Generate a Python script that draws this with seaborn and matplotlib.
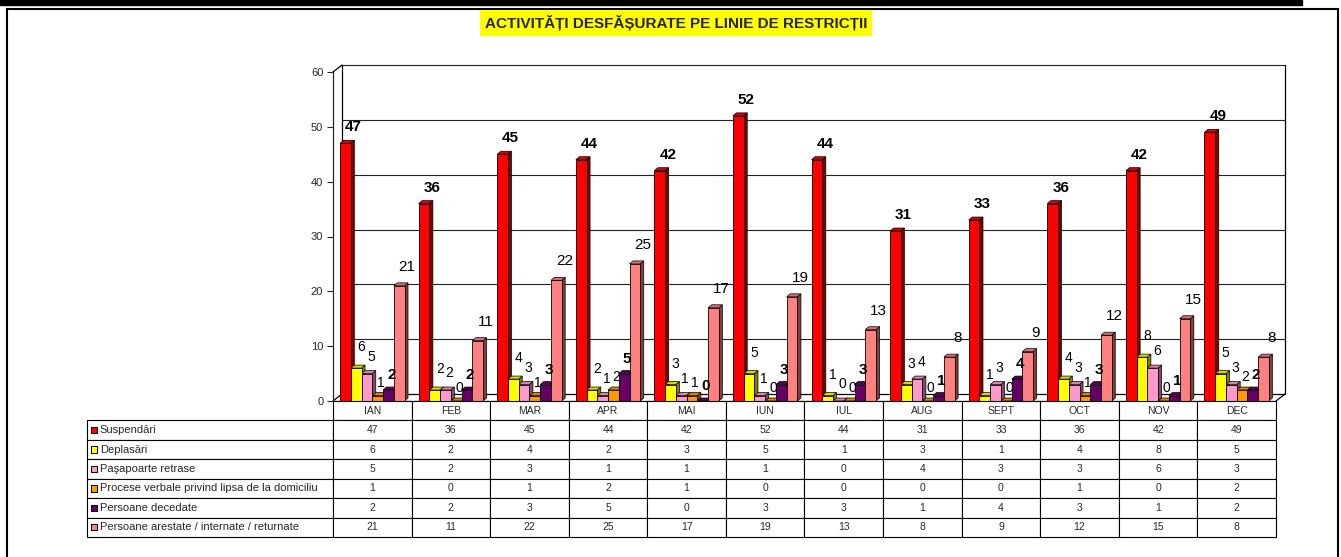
import numpy as np
import pandas as pd
import seaborn as sns
import matplotlib.pyplot as plt
from matplotlib.lines import Line2D
from matplotlib.patches import Polygon, Rectangle
import matplotlib.colors as mcolors

# monthly activity counts
months = ["IAN", "FEB", "MAR", "APR", "MAI", "IUN", "IUL", "AUG", "SEPT", "OCT", "NOV", "DEC"]
series_names = ["Suspendări", "Deplasări", "Paşapoarte retrase",
                "Procese verbale privind lipsa de la domiciliu",
                "Persoane decedate", "Persoane arestate / internate / returnate"]
suspendari = [47, 36, 45, 44, 42, 52, 44, 31, 33, 36, 42, 49]
deplasari = [6, 2, 4, 2, 3, 5, 1, 3, 1, 4, 8, 5]
pasapoarte = [5, 2, 3, 1, 1, 1, 0, 4, 3, 3, 6, 3]
procese = [1, 0, 1, 2, 1, 0, 0, 0, 0, 1, 0, 2]
decedate = [2, 2, 3, 5, 0, 3, 3, 1, 4, 3, 1, 2]
arestate = [21, 11, 22, 25, 17, 19, 13, 8, 9, 12, 15, 8]
y_ticks = [0, 10, 20, 30, 40, 50, 60]
title = "ACTIVITĂȚI DESFĂȘURATE PE LINIE DE RESTRICȚII"

values = [suspendari, deplasari, pasapoarte, procese, decedate, arestate]
colors = ["#FF0000", "#FFFF00", "#FF99CC", "#FF9900", "#660066", "#FF8080"]
# label style per series: fontsize, weight, dx px, dy px
label_style = [(11, "bold", 8, 9), (10, "normal", 5, 14), (10, "normal", 4, 10),
               (10, "normal", 3, 6), (11, "bold", 3, 8), (11, "normal", 8, 12)]

df = pd.DataFrame({"Luna": np.tile(months, len(series_names)),
                   "Serie": np.repeat(series_names, len(months)),
                   "Valoare": np.concatenate(values)})

sns.set_style("white")
plt.rcParams['font.family'] = ['Liberation Sans', 'DejaVu Sans']

W, H = 1341, 557
fig = plt.figure(figsize=(W / 100, H / 100), dpi=100)

# outer frame like the original page
fig.patches.append(Rectangle((0, 1 - 5 / H), 1302 / W, 5 / H, transform=fig.transFigure,
                             color="black", zorder=0))
fig.patches.append(Rectangle((7 / W, -0.05), (1338 - 7) / W, 1.05 - 9 / H, transform=fig.transFigure,
                             fill=False, edgecolor="black", linewidth=1.5, zorder=0))

ax = fig.add_axes([333 / W, 1 - 401 / H, (1276 - 333) / W, (401 - 72) / H])
sns.barplot(data=df, x="Luna", y="Valoare", hue="Serie", palette=colors, order=months,
            hue_order=series_names, width=0.82, gap=0, saturation=1, edgecolor="black",
            linewidth=0.6, legend=False, errorbar=None, ax=ax, zorder=3)
ax.set_xlim(-0.5, len(months) - 0.5)
ax.set_ylim(0, 60)
ax.set_yticks(y_ticks)
ax.set_xlabel("")
ax.set_ylabel("")
ax.tick_params(axis="x", length=0, labelbottom=False)
ax.tick_params(axis="y", length=4, width=0.8, direction="out", labelsize=8, pad=3, left=True)
for s in ["top", "right"]:
    ax.spines[s].set_visible(False)
ax.spines["left"].set_linewidth(0.9)
ax.spines["bottom"].set_linewidth(0.9)
ax.patch.set_alpha(0)

# data units per pixel
ux = (len(months)) / ax.bbox.width
uy = 60 / ax.bbox.height
wx, wy = 9 * ux, 7 * uy     # wall depth
bx, by = 3.5 * ux, 3 * uy   # bar depth
x0, x1 = -0.5, len(months) - 0.5

# back wall with gridlines
for t in y_ticks[1:]:
    ax.add_line(Line2D([x0 + wx, x1 + wx], [t + wy, t + wy], color="#222222", lw=0.8, zorder=1, clip_on=False))
ax.add_line(Line2D([x0 + wx, x1 + wx], [wy, wy], color="black", lw=0.9, zorder=1, clip_on=False))
ax.add_line(Line2D([x0 + wx, x0 + wx], [wy, 60 + wy], color="black", lw=0.9, zorder=1, clip_on=False))
ax.add_line(Line2D([x1 + wx, x1 + wx], [wy, 60 + wy], color="black", lw=0.9, zorder=1, clip_on=False))
ax.add_line(Line2D([x0, x0 + wx], [60, 60 + wy], color="black", lw=0.9, zorder=1, clip_on=False))
ax.add_line(Line2D([x0, x0 + wx], [0, wy], color="black", lw=0.9, zorder=1, clip_on=False))
ax.add_line(Line2D([x1, x1 + wx], [0, wy], color="black", lw=0.9, zorder=1, clip_on=False))

# 3D faces and labels for each bar
for si, cont in enumerate(ax.containers):
    base = np.array(mcolors.to_rgb(colors[si]))
    side = base * 0.5
    top = base * 0.85
    fs, fw, dx, dy = label_style[si]
    for bar, v in zip(cont.patches, values[si]):
        xl = bar.get_x()
        w = bar.get_width()
        h = bar.get_height()
        ax.add_patch(Polygon([(xl + w, 0), (xl + w + bx, by), (xl + w + bx, h + by), (xl + w, h)],
                             closed=True, facecolor=side, edgecolor="black", lw=0.5, zorder=2.9, clip_on=False))
        ax.add_patch(Polygon([(xl, h), (xl + bx, h + by), (xl + w + bx, h + by), (xl + w, h)],
                             closed=True, facecolor=top, edgecolor="black", lw=0.5, zorder=2.9, clip_on=False))
        ax.annotate(str(v), xy=(xl + w / 2, h), xytext=(dx, dy), textcoords="offset pixels",
                    ha="center", va="bottom", fontsize=fs, fontweight=fw, color="black",
                    zorder=5, annotation_clip=False)

# data table below the chart
tax = fig.add_axes([87 / W, 1 - 537 / H, (1276 - 87) / W, (537 - 401) / H])
tax.axis("off")
cell_text = [[""] + months] + [[series_names[i]] + [str(v) for v in values[i]] for i in range(len(values))]
col_w = [246] + [78.6] * len(months)
tbl = tax.table(cellText=cell_text, colWidths=col_w, cellLoc="center", bbox=[0, 0, 1, 1])
tbl.auto_set_font_size(False)
tbl.set_fontsize(7.5)
for (r, c), cell in tbl.get_celld().items():
    cell.set_linewidth(0.8)
    cell.set_edgecolor("black")
    if c == 0:
        cell.get_text().set_ha("left")
        cell.get_text().set_fontsize(8)
        cell.PAD = 0.052
    if r == 0 and c == 0:
        cell.visible_edges = ""
n_rows = len(cell_text)
tax.scatter([7 / 1189] * len(colors), [1 - (i + 1.5) / n_rows for i in range(len(colors))],
            marker="s", s=20, c=colors, edgecolors="black", linewidths=0.7,
            transform=tax.transAxes, zorder=5, clip_on=False)

# title with yellow background and underline
ttl = fig.text(676 / W, 1 - 23 / H, title, ha="center", va="center", fontsize=11, fontweight="bold",
               bbox=dict(facecolor="#FFFF00", edgecolor="none", pad=3.5))
fig.canvas.draw()
bb = ttl.get_window_extent()
fig.add_artist(Line2D([bb.x0, bb.x1], [bb.y0 - 1, bb.y0 - 1], color="black", lw=1.2, transform=None))

fig.savefig("out.png", dpi=100, facecolor="white")
